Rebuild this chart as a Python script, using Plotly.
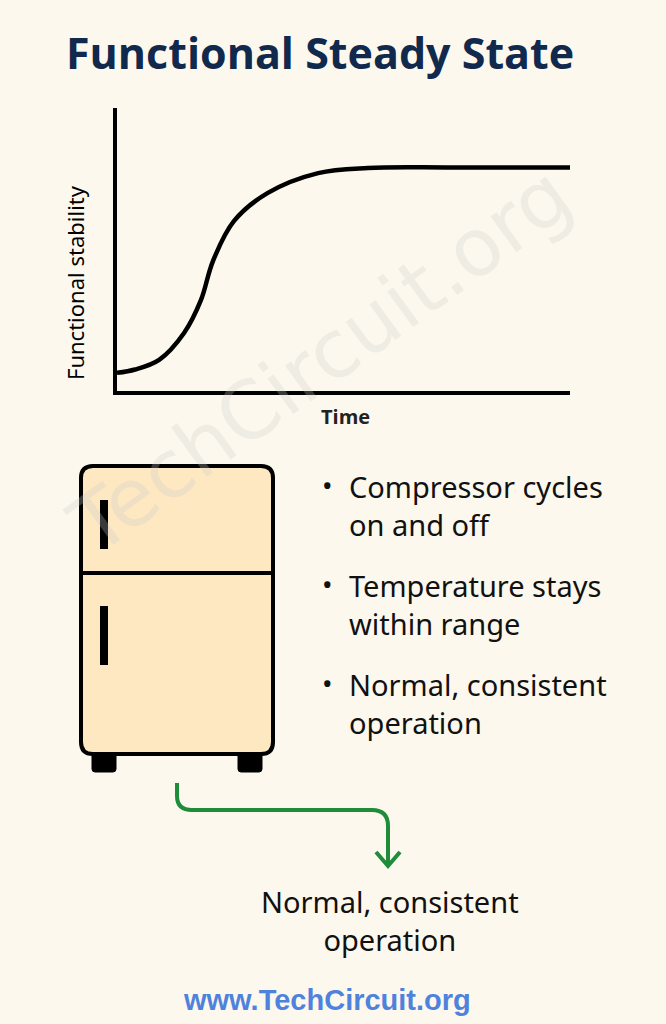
import plotly.graph_objects as go

W, H = 666, 1024
time_vals = [0, 0.4, 0.93, 1.48, 1.85, 2.12, 2.58, 3.33, 4.44, 5.54, 7.35, 10]
stability = [6.4, 7.6, 11, 20.5, 32, 46, 60, 70, 77, 78.8, 79, 79]
title = "Functional Steady State"
x_title = "Time"
y_title = "Functional stability"
bullets = ["Compressor cycles<br>on and off", "Temperature stays<br>within range", "Normal, consistent<br>operation"]
result_text = "Normal, consistent<br>operation"
footer = "www.TechCircuit.org"

def px(x): return x / W
def py(y): return 1 - y / H

fig = go.Figure()
fig.add_trace(go.Scatter(x=time_vals, y=stability, mode="lines",
                         line=dict(color="black", width=4.5, shape="spline", smoothing=1.0),
                         hoverinfo="skip", showlegend=False))
fig.update_layout(
    width=W, height=H, margin=dict(l=0, r=0, t=0, b=0),
    paper_bgcolor="#fcf8ee", plot_bgcolor="rgba(0,0,0,0)",
    xaxis=dict(domain=[px(117), px(570)], range=[0, 10], showline=True, linecolor="black",
               linewidth=4, showgrid=False, zeroline=False, showticklabels=False, ticks=""),
    yaxis=dict(domain=[py(391), py(108)], range=[0, 100], showline=True, linecolor="black",
               linewidth=4, showgrid=False, zeroline=False, showticklabels=False, ticks=""),
)

def A(text, x, y, size, family="Noto Sans", color="#111", **kw):
    d = dict(text=text, x=px(x), y=py(y), xref="paper", yref="paper", showarrow=False,
             xanchor=kw.pop("xanchor", "center"), yanchor="middle",
             font=dict(family=family, size=size, color=color))
    d.update(kw)
    return d

ann = []
ann.append(A("TechCircuit.org", 320, 360, 80, family="DejaVu Sans",
             color="rgba(205,205,205,0.28)", textangle=-36))
ann.append(A("<b>" + title + "</b>", 320, 52, 43, family="Open Sans", color="#10294c"))
ann.append(A("<b>" + x_title + "</b>", 345, 416, 20, family="Open Sans", color="#222"))
ann.append(A(y_title, 75, 283, 22, textangle=-90, color="black"))
for i, b in enumerate(bullets):
    yc = 505 + i * 99
    ann.append(A("•", 327, yc - 20, 28))
    ann.append(A(b, 347, yc, 29, xanchor="left", align="left"))
ann.append(A(result_text, 390, 920, 29, align="center"))
ann.append(A("<b>" + footer + "</b>", 327, 1000, 29, family="Liberation Sans", color="#4f82dc"))
fig.update_layout(annotations=ann)

def rrect(x0, y0, x1, y1, r):
    X = px; Y = py
    return (f"M {X(x0+r)},{Y(y0)} L {X(x1-r)},{Y(y0)} Q {X(x1)},{Y(y0)} {X(x1)},{Y(y0+r)} "
            f"L {X(x1)},{Y(y1-r)} Q {X(x1)},{Y(y1)} {X(x1-r)},{Y(y1)} L {X(x0+r)},{Y(y1)} "
            f"Q {X(x0)},{Y(y1)} {X(x0)},{Y(y1-r)} L {X(x0)},{Y(y0+r)} Q {X(x0)},{Y(y0)} {X(x0+r)},{Y(y0)} Z")

shapes = []
for fx in (92, 238):
    shapes.append(dict(type="path", path=rrect(fx, 748, fx + 24, 772, 3), xref="paper", yref="paper",
                       fillcolor="black", line=dict(color="black", width=1)))
shapes.append(dict(type="path", path=rrect(81, 466, 273, 754, 12), xref="paper", yref="paper",
                   fillcolor="#fde8c2", line=dict(color="black", width=4)))
shapes.append(dict(type="line", x0=px(81), x1=px(273), y0=py(573), y1=py(573), xref="paper", yref="paper",
                   line=dict(color="black", width=4)))
for a, b in ((500, 549), (606, 665)):
    shapes.append(dict(type="line", x0=px(104), x1=px(104), y0=py(a), y1=py(b), xref="paper", yref="paper",
                       line=dict(color="black", width=8)))
g = "#1e8c38"
arrow = (f"M {px(177)},{py(783)} L {px(177)},{py(796)} Q {px(177)},{py(810)} {px(192)},{py(810)} "
         f"L {px(372)},{py(810)} Q {px(388)},{py(810)} {px(388)},{py(826)} L {px(388)},{py(866)}")
shapes.append(dict(type="path", path=arrow, xref="paper", yref="paper", line=dict(color=g, width=4)))
head = f"M {px(376)},{py(852)} L {px(388)},{py(866)} L {px(400)},{py(852)}"
shapes.append(dict(type="path", path=head, xref="paper", yref="paper", line=dict(color=g, width=4)))
fig.update_layout(shapes=shapes)

fig.write_html("out.html", config={"displayModeBar": False},
               post_script="document.body.style.margin='0';document.body.style.background='#fcf8ee';")
